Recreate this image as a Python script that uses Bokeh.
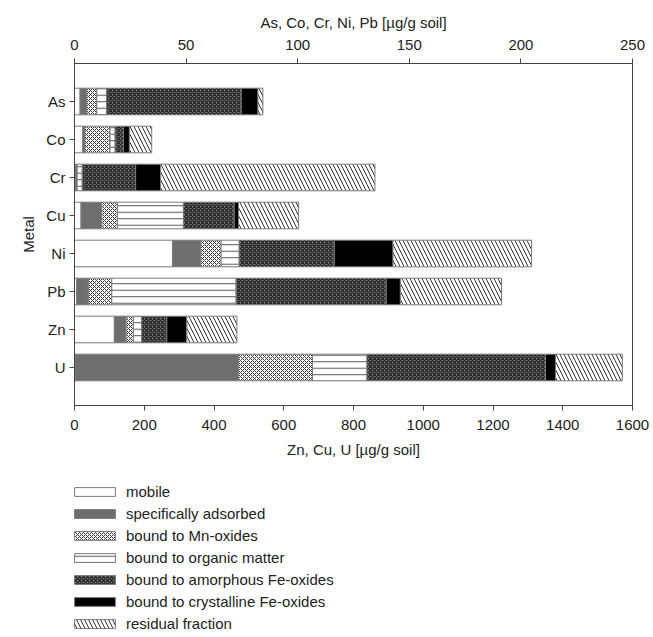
from bokeh.plotting import figure
from bokeh.models import Range1d, LinearAxis, Legend, LegendItem, FixedTicker
from bokeh.layouts import column
from bokeh.embed import file_html
from bokeh.resources import INLINE
import numpy as np

# ---------------- data ----------------
metals = ["As", "Co", "Cr", "Cu", "Ni", "Pb", "Zn", "U"]
top_scale_metals = ["As", "Co", "Cr", "Ni", "Pb"]      # read on top axis (0-250)
fractions = ["mobile", "specifically adsorbed", "bound to Mn-oxides",
             "bound to organic matter", "bound to amorphous Fe-oxides",
             "bound to crystalline Fe-oxides", "residual fraction"]

#            As    Co    Cr    Cu     Ni    Pb    Zn     U
mobile   = [2.5,  3.7,  0.5,  18.7,  43.9, 1.0,  114.3, 2.0]
spec_ads = [3.0,  1.0,  0.4,  59.4,  12.7, 5.2,  33.6,  468.0]
mn_ox    = [4.5,  11.2, 0.3,  44.8,  9.1,  10.5, 20.9,  212.4]
org      = [4.4,  2.3,  2.3,  189.5, 8.1,  55.7, 24.1,  156.3]
amorph   = [60.3, 3.7,  23.9, 145.5, 42.6, 67.3, 71.8,  511.9]
cryst    = [7.5,  2.7,  11.2, 12.4,  26.3, 6.3,  57.4,  28.7]
residual = [2.2,  10.0, 96.0, 172.3, 62.1, 45.3, 143.6, 191.4]

top_ticks = [0, 50, 100, 150, 200, 250]
bottom_ticks = [0, 200, 400, 600, 800, 1000, 1200, 1400, 1600]

series = [mobile, spec_ads, mn_ox, org, amorph, cryst, residual]

# ---------------- styles ----------------
FONT = "Liberation Sans"
OUT = "#7a7a7a"
styles = [
    dict(fill_color="white"),
    dict(fill_color="#6e6e6e"),
    dict(fill_color="white", hatch_pattern="diagonal_cross", hatch_color="#3a3a3a",
         hatch_scale=4, hatch_weight=1),
    dict(fill_color="white", hatch_pattern="horizontal_line", hatch_color="#555555",
         hatch_scale=6.5, hatch_weight=1),
    dict(fill_color="#7a7a7a", hatch_pattern="diagonal_cross", hatch_color="#262626",
         hatch_scale=4, hatch_weight=1.3),
    dict(fill_color="black"),
    dict(fill_color="white", hatch_pattern="left_diagonal_line", hatch_color="#333333",
         hatch_scale=8, hatch_weight=1),
]

n = len(metals)
ypos = {m: n - i for i, m in enumerate(metals)}   # As on top

W, H = 653, 637
H1 = 460
FRAME_L, FRAME_R, FRAME_T, FRAME_B = 74, 632, 63, 407

p = figure(width=W, height=H1,
           x_range=Range1d(0, bottom_ticks[-1]),
           y_range=Range1d(0, n + 1),
           output_backend="svg", toolbar_location=None,
           min_border_left=FRAME_L, min_border_right=W - FRAME_R,
           min_border_top=FRAME_T, min_border_bottom=H1 - FRAME_B)
p.extra_x_ranges = {"top": Range1d(0, top_ticks[-1])}

vals = np.array(series)
cum = np.cumsum(vals, axis=0)
left_all = cum - vals
is_top = np.array([m in top_scale_metals for m in metals])

for i, st in enumerate(styles):
    for grp, rname in ((is_top, "top"), (~is_top, "default")):
        ys = [ypos[m] for m, g in zip(metals, grp) if g]
        p.hbar(y=ys, left=left_all[i][grp], right=cum[i][grp], height=0.7,
               line_color=OUT, line_width=1, x_range_name=rname, **st)

top_axis = LinearAxis(x_range_name="top", ticker=FixedTicker(ticks=top_ticks),
                      axis_label="As, Co, Cr, Ni, Pb [µg/g soil]")
p.add_layout(top_axis, "above")
bottom_axis = p.below[0]
bottom_axis.ticker = FixedTicker(ticks=bottom_ticks)
bottom_axis.axis_label = "Zn, Cu, U [µg/g soil]"
left_axis = p.left[0]
left_axis.ticker = FixedTicker(ticks=[ypos[m] for m in metals])
left_axis.major_label_overrides = {ypos[m]: m for m in metals}
left_axis.axis_label = "Metal"

for ax in (top_axis, bottom_axis, left_axis):
    ax.axis_line_color = "#444444"
    ax.major_tick_line_color = "#444444"
    ax.major_tick_out = 5
    ax.major_tick_in = 0
    ax.minor_tick_line_color = None
    ax.major_label_text_font = FONT
    ax.major_label_text_font_size = "15px"
    ax.major_label_text_color = "#222222"
    ax.axis_label_text_font = FONT
    ax.axis_label_text_font_size = "15px"
    ax.axis_label_text_font_style = "normal"
    ax.axis_label_text_color = "#222222"
    ax.major_label_standoff = 4
    ax.axis_label_standoff = 6
top_axis.major_label_standoff = 9
bottom_axis.major_label_standoff = 9
bottom_axis.axis_label_standoff = 8

p.xgrid.grid_line_color = None
p.ygrid.grid_line_color = None
p.outline_line_color = "#444444"

# ---------------- legend panel (second figure) ----------------
q = figure(width=W, height=H - H1,
           x_range=Range1d(0, top_ticks[-1]), y_range=Range1d(-3, -2),
           output_backend="svg", toolbar_location=None,
           x_axis_location=None, y_axis_location=None,
           min_border_left=FRAME_L, min_border_right=W - FRAME_R,
           min_border_top=0, min_border_bottom=0)
q.outline_line_color = None
q.xgrid.grid_line_color = None
q.ygrid.grid_line_color = None
items = []
for i, (name, st) in enumerate(zip(fractions, styles)):
    # same stacked data as above, hidden here: this figure only carries the key
    ys = [ypos[m] for m, g in zip(metals, is_top) if g]
    r = q.hbar(y=ys, left=left_all[i][is_top], right=cum[i][is_top], height=0.7,
               line_color=OUT, line_width=1, visible=False, **st)
    items.append(LegendItem(label=name, renderers=[r]))
leg = Legend(items=items, location=(-5, 5), orientation="vertical",
             glyph_width=51, glyph_height=11, label_standoff=6, spacing=5,
             label_height=16, padding=0, margin=0, border_line_color=None,
             background_fill_alpha=0, label_text_font=FONT,
             label_text_font_size="15px", label_text_color="#222222")
q.add_layout(leg)

layout = column(p, q)
open("out.html", "w").write(file_html(layout, INLINE))
